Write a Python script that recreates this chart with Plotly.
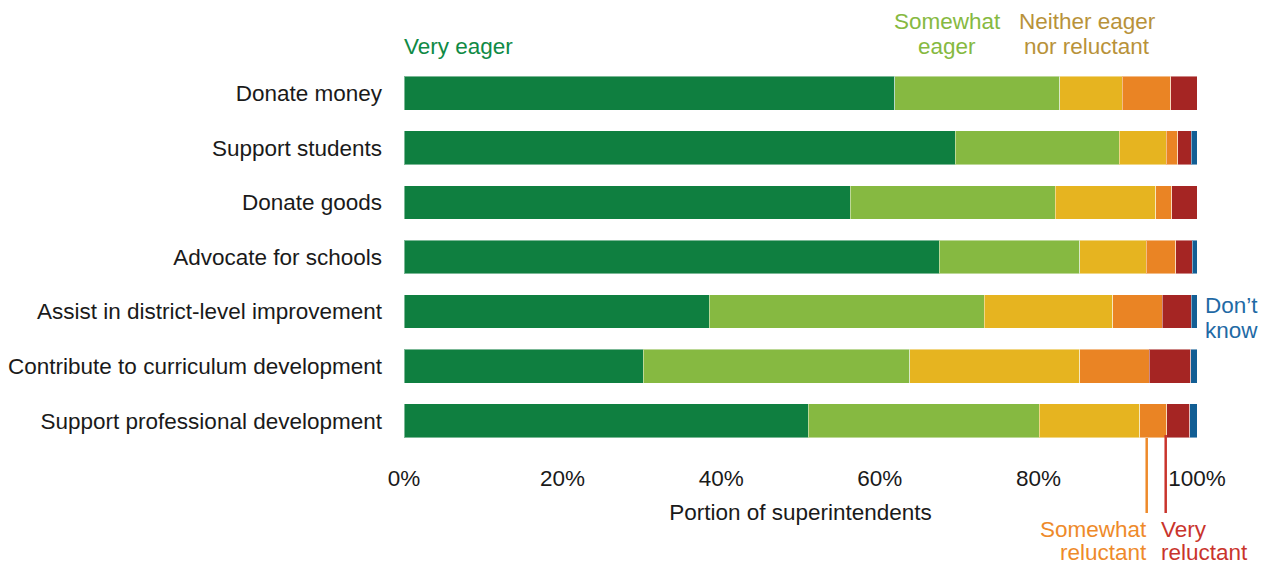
import plotly.graph_objects as go

categories = [
    "Donate money",
    "Support students",
    "Donate goods",
    "Advocate for schools",
    "Assist in district-level improvement",
    "Contribute to curriculum development",
    "Support professional development",
]
very_eager = [61.9, 69.5, 56.3, 67.5, 38.5, 30.2, 51.0]
somewhat_eager = [20.8, 20.7, 25.8, 17.7, 34.7, 33.6, 29.1]
neither = [7.9, 5.9, 12.7, 8.4, 16.2, 21.4, 12.7]
somewhat_reluctant = [6.1, 1.5, 2.0, 3.7, 6.2, 8.8, 3.4]
very_reluctant = [3.3, 1.7, 3.2, 2.1, 3.7, 5.2, 2.9]
dont_know = [0.0, 0.7, 0.0, 0.6, 0.7, 0.8, 0.9]

series_names = ["Very eager", "Somewhat eager", "Neither eager nor reluctant",
                "Somewhat reluctant", "Very reluctant", "Don't know"]
series_values = [very_eager, somewhat_eager, neither, somewhat_reluctant, very_reluctant, dont_know]
series_colors = ["#0f7f40", "#86b941", "#e6b420", "#ea8424", "#a52523", "#125e94"]

x_ticks = [0, 20, 40, 60, 80, 100]
x_ticklabels = ["0%", "20%", "40%", "60%", "80%", "100%"]

FONT = "Liberation Sans"
FS = 22.5
OFF = 8  # page body margin offset

W, H = 1273 - OFF, 565 - OFF
L, R, T, B = 404 - OFF, 1273 - 1197, 66 - OFF, 565 - 448

fig = go.Figure()
for name, vals, col in zip(series_names, series_values, series_colors):
    fig.add_trace(go.Bar(
        y=categories, x=vals, orientation="h", name=name,
        marker=dict(color=col, line=dict(color="rgba(255,255,255,0.45)", width=1)),
        width=0.62,
    ))

fig.update_layout(
    barmode="stack",
    width=W, height=H,
    margin=dict(l=L, r=R, t=T, b=B, pad=0, autoexpand=False),
    plot_bgcolor="white", paper_bgcolor="white",
    showlegend=False,
    font=dict(family=FONT, size=FS, color="#1a1a1a"),
    xaxis=dict(
        range=[0, 100], tickvals=x_ticks, ticktext=x_ticklabels,
        showgrid=False, zeroline=False, showline=False,
        ticks="", ticklabelstandoff=14, automargin=False,
        tickfont=dict(size=FS, color="#1a1a1a"),
        title=dict(text="Portion of superintendents", standoff=14,
                   font=dict(size=FS, color="#1a1a1a")),
        fixedrange=True,
    ),
    yaxis=dict(
        categoryorder="array", categoryarray=categories,
        autorange="reversed", automargin=False,
        showgrid=False, zeroline=False, showline=False,
        ticks="", ticklabelstandoff=21,
        tickfont=dict(size=FS, color="#1a1a1a"),
    ),
)

PT, PB = 66, 448  # plot top/bottom in reference pixels
PL, PR = 404, 1197


def ypix(p):
    return (PB - p) / (PB - PT)


def xpap(p):
    return (p - PL) / (PR - PL)


def ann(text, xp, yp, color, xanchor="center"):
    fig.add_annotation(text=text, x=xpap(xp), y=ypix(yp), xref="paper", yref="paper",
                       showarrow=False, xanchor=xanchor, yanchor="middle",
                       font=dict(family=FONT, size=FS, color=color))


GREEN_T = "#0f8a45"
LGREEN_T = "#86b941"
GOLD_T = "#b8923a"
BLUE_T = "#1f6aa5"
ORANGE_T = "#ee8a2a"
RED_T = "#c9342c"

ann("Very eager", 402, 47, GREEN_T, "left")
ann("Somewhat", 947, 22, LGREEN_T)
ann("eager", 947, 47, LGREEN_T)
ann("Neither eager", 1087, 22, GOLD_T)
ann("nor reluctant", 1087, 47, GOLD_T)
ann("Don’t", 1203, 305, BLUE_T, "left")
ann("know", 1203, 330, BLUE_T, "left")
ann("Somewhat", 1149, 529, ORANGE_T, "right")
ann("reluctant", 1149, 552, ORANGE_T, "right")
ann("Very", 1159, 529, RED_T, "left")
ann("reluctant", 1159, 552, RED_T, "left")

# Callout lines
fig.add_shape(type="line", xref="paper", yref="paper",
              x0=xpap(1146.7), x1=xpap(1146.7), y0=ypix(438), y1=ypix(513),
              line=dict(color=ORANGE_T, width=2.5))
fig.add_shape(type="line", xref="paper", yref="paper",
              x0=xpap(1165.7), x1=xpap(1165.7), y0=ypix(435), y1=ypix(513),
              line=dict(color=RED_T, width=2.5))

fig.write_html("out.html")
